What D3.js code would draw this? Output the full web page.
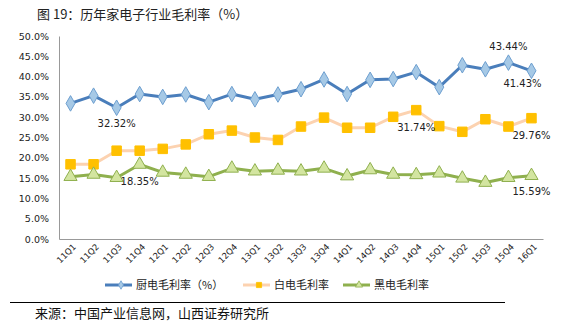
<!DOCTYPE html>
<html><head><meta charset="utf-8">
<script src="https://cdn.jsdelivr.net/npm/d3@7/dist/d3.min.js"></script>
<style>body{margin:0;background:#fff;}svg{display:block;font-family:"Noto Sans CJK SC","DejaVu Sans",sans-serif;}</style>
</head><body>
<svg id="c" width="565" height="328"></svg>
<script>
const categories = ["11Q1","11Q2","11Q3","11Q4","12Q1","12Q2","12Q3","12Q4","13Q1","13Q2","13Q3","13Q4","14Q1","14Q2","14Q3","14Q4","15Q1","15Q2","15Q3","15Q4","16Q1"];
const kitchen = [33.4,35.3,32.32,35.7,35.0,35.6,33.7,35.7,34.4,35.6,36.9,39.3,35.7,39.2,39.4,41.1,37.4,42.8,41.8,43.44,41.43];
const white   = [18.4,18.4,21.75,21.75,22.2,23.3,25.8,26.7,25.0,24.4,27.7,29.9,27.4,27.4,30.1,31.74,27.8,26.4,29.5,27.7,29.76];
const black   = [15.35,15.9,15.1,18.35,16.4,15.9,15.35,17.4,16.7,16.9,16.7,17.4,15.5,17.0,15.9,15.8,16.2,14.95,13.9,15.1,15.59];
const yTicks = [0,5,10,15,20,25,30,35,40,45,50];
const seriesNames = ["厨电毛利率（%）","白电毛利率","黑电毛利率"];
const titleText = "图 19：历年家电子行业毛利率（%）";
const sourceText = "来源：中国产业信息网，山西证券研究所";
// annotated points: [series index, category index]
const annotations = [[0,2],[0,19],[0,20],[1,15],[1,20],[2,3],[2,20]];

const svg = d3.select("#c");
const x = d3.scaleBand().domain(categories).range([59,543]);
const y = d3.scaleLinear().domain([0,50]).range([239,36]);
const cx = d => x(d) + x.bandwidth()/2;

svg.append("text").attr("x",37).attr("y",19).attr("font-size",13).attr("fill","#222").text(titleText);

// axes
const yAxis = svg.append("g").attr("transform","translate(59,0)")
  .call(d3.axisLeft(y).tickValues(yTicks).tickSize(0).tickPadding(10).tickFormat(d=>d.toFixed(1)+"%"));
yAxis.select(".domain").attr("stroke","#999").attr("stroke-width",1);
yAxis.selectAll("text").attr("font-size",9.5).attr("fill","#222").attr("font-family","DejaVu Sans");

const xAxis = svg.append("g").attr("transform","translate(0,239)")
  .call(d3.axisBottom(x).tickSize(0).tickPadding(6));
xAxis.select(".domain").attr("stroke","#999").attr("stroke-width",1);
xAxis.selectAll("text").attr("font-size",8.5).attr("fill","#222").attr("font-family","DejaVu Sans")
  .attr("text-anchor","end").attr("dx","-0.2em").attr("dy","0.5em").attr("transform","rotate(-45)");

const styles = [
  {data:kitchen, line:"#4a7ebb", fill:"#a6c9e6", stroke:"#6d9fd0", shape:"diamond"},
  {data:white, line:"#fcd2b0", fill:"#ffc000", stroke:"#ffc000", shape:"square"},
  {data:black, line:"#8fb04e", fill:"#d3e5a0", stroke:"#8fb04e", shape:"triangle"}
];
const symType = {diamond:d3.symbolDiamond, square:d3.symbolSquare, triangle:d3.symbolTriangle};
const symSize = {diamond:70, square:90, triangle:75};

styles.forEach(s=>{
  const line = d3.line().x((d,i)=>cx(categories[i])).y(d=>y(d));
  svg.append("path").datum(s.data).attr("d",line).attr("fill","none").attr("stroke",s.line).attr("stroke-width",3).attr("stroke-linejoin","round");
  svg.append("g").selectAll("path").data(s.data).join("path")
    .attr("transform",(d,i)=>`translate(${cx(categories[i])},${y(d)})`)
    .attr("d",d3.symbol().type(symType[s.shape]).size(symSize[s.shape]))
    .attr("fill",s.fill).attr("stroke",s.stroke).attr("stroke-width",1);
});

// annotations
const annOffsets = {"0,2":[0,16],"0,19":[0,-16],"0,20":[-9,13],"1,15":[0,17.5],"1,20":[0,17],"2,3":[0,17],"2,20":[0,16]};
annotations.forEach(([si,ci])=>{
  const v = styles[si].data[ci];
  const o = annOffsets[si+","+ci];
  svg.append("text").attr("x",cx(categories[ci])+o[0]).attr("y",y(v)+o[1]+3.5)
    .attr("text-anchor","middle").attr("font-size",10).attr("fill","#222").attr("font-family","DejaVu Sans")
    .text(v.toFixed(2)+"%");
});

// legend
const legX = [105,243,343];
styles.forEach((s,i)=>{
  const g = svg.append("g").attr("transform",`translate(${legX[i]},285)`);
  g.append("line").attr("x1",0).attr("x2",27).attr("y1",0).attr("y2",0).attr("stroke",s.line).attr("stroke-width",3);
  g.append("path").attr("transform","translate(16,0)")
    .attr("d",d3.symbol().type(symType[s.shape]).size(symSize[s.shape]*0.3))
    .attr("fill",s.fill).attr("stroke",s.stroke).attr("stroke-width",0.8);
  g.append("text").attr("x",31).attr("y",4).attr("font-size",11).attr("fill","#222").text(seriesNames[i]);
});

svg.append("line").attr("x1",10).attr("x2",505).attr("y1",302.5).attr("y2",302.5).attr("stroke","#000").attr("stroke-width",1);
svg.append("text").attr("x",35).attr("y",318).attr("font-size",13).attr("fill","#111").text(sourceText);
</script>
</body></html>
